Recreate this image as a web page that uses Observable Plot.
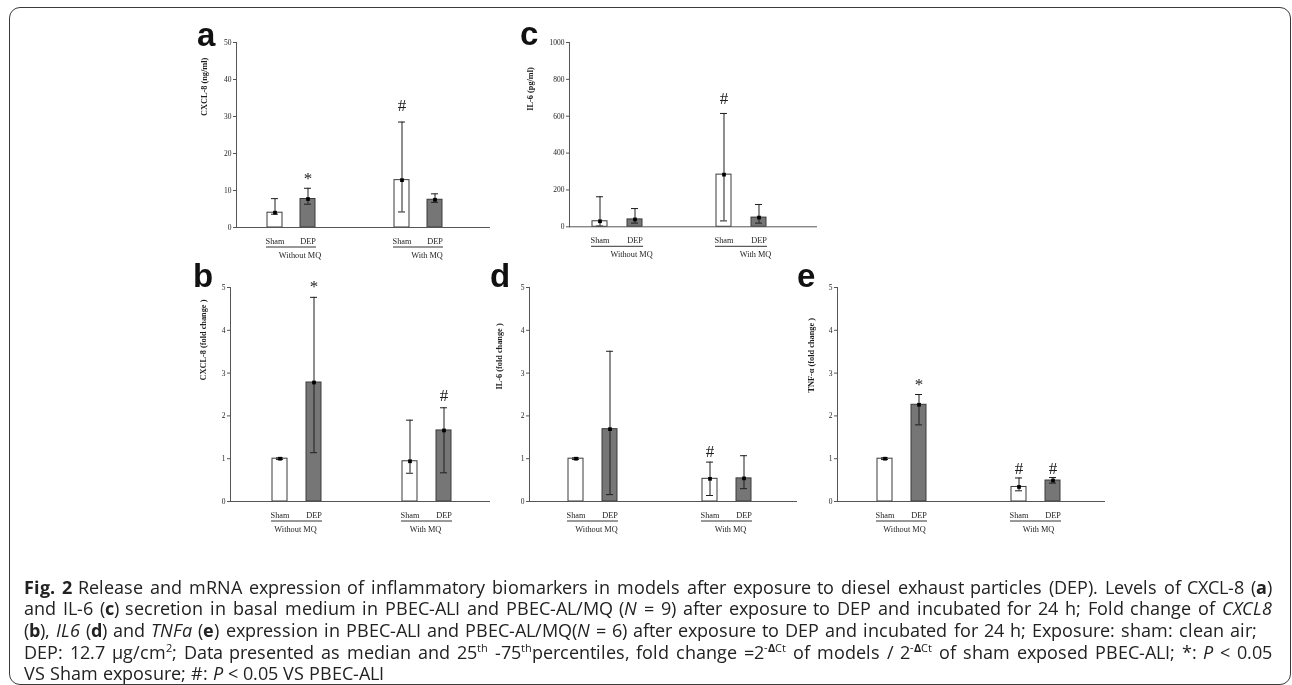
<!DOCTYPE html>
<html><head><meta charset="utf-8">
<script src="https://cdn.jsdelivr.net/npm/d3@7"></script>
<script src="https://cdn.jsdelivr.net/npm/@observablehq/plot@0.6"></script>
<style>
@font-face{font-family:"CapSans";font-weight:400;font-style:normal;src:local("Open Sans Regular"),local("OpenSans-Regular"),local("Open Sans");ascent-override:84%;descent-override:24%;line-gap-override:0%;}
@font-face{font-family:"CapSans";font-weight:700;font-style:normal;src:local("Open Sans Bold"),local("OpenSans-Bold");ascent-override:84%;descent-override:24%;line-gap-override:0%;}
@font-face{font-family:"CapSans";font-weight:400;font-style:italic;src:local("Open Sans Italic"),local("OpenSans-Italic");ascent-override:84%;descent-override:24%;line-gap-override:0%;}
body{margin:0;background:#fff;}
#fig{position:relative;width:1292px;height:685px;overflow:hidden;background:#fff;}
.border{position:absolute;left:9px;top:7px;width:1282px;height:678px;border:1.6px solid #3a3a3a;border-radius:11px;box-sizing:border-box;}
.panel{position:absolute;will-change:transform;}
.panel svg{overflow:visible;}
.letter{position:absolute;font:bold 33px "Liberation Sans",Arial,sans-serif;line-height:33px;color:#111;}
.caption{position:absolute;left:24px;top:580.2px;width:1248px;font-family:"CapSans","Open Sans",sans-serif;font-size:18.43px;color:#222;white-space:nowrap;will-change:transform;}
.caption div{line-height:18px;height:18px;margin-bottom:3.4px;}
.caption div.j{text-align:justify;text-align-last:justify;white-space:normal;}
.caption div.j3{width:1233px;}
.caption sup{display:inline-block;font-size:0.62em;line-height:0.8;vertical-align:0.6em;}
</style></head>
<body>
<div id="fig">
  <div class="border"></div>
  <div class="caption" id="caption">
    <div class="j"><b>Fig. 2</b> Release and mRNA expression of inflammatory biomarkers in models after exposure to diesel exhaust particles (DEP). Levels of CXCL-8 (<b>a</b>)</div>
    <div class="j">and IL-6 (<b>c</b>) secretion in basal medium in PBEC-ALI and PBEC-AL/MQ (<i>N</i> = 9) after exposure to DEP and incubated for 24 h; Fold change of <i>CXCL8</i></div>
    <div class="j j3">(<b>b</b>), <i>IL6</i> (<b>d</b>) and <i>TNFa</i> (<b>e</b>) expression in PBEC-ALI and PBEC-AL/MQ(<i>N</i> = 6) after exposure to DEP and incubated for 24 h; Exposure: sham: clean air;</div>
    <div class="j">DEP: 12.7 µg/cm<sup>2</sup>; Data presented as median and 25<sup>th</sup> -75<sup>th</sup>percentiles, fold change =2<sup>-<b>Δ</b>Ct</sup> of models / 2<sup>-<b>Δ</b>Ct</sup> of sham exposed PBEC-ALI; *: <i>P</i> &lt; 0.05</div>
    <div>VS Sham exposure; #: <i>P</i> &lt; 0.05 VS PBEC-ALI</div>
  </div>
</div>
<script>
// ---------- data ----------
const groups = ["Without MQ", "With MQ"];
const treatments = ["Sham", "DEP"];
const barGroup = ["Without MQ", "Without MQ", "With MQ", "With MQ"];
const barTreatment = ["Sham", "DEP", "Sham", "DEP"];

// a: CXCL-8 secretion (ng/ml)
const aMedian = [4.0, 7.7, 12.8, 7.5];
const aQ1 = [3.6, 6.3, 4.2, 6.8];
const aQ3 = [7.8, 10.6, 28.5, 9.1];
const aSig = ["", "*", "#", ""];
const aTicks = [0, 10, 20, 30, 40, 50];

// c: IL-6 secretion (pg/ml)
const cMedian = [30, 40, 283, 50];
const cQ1 = [4, 20, 32, 20];
const cQ3 = [163, 99, 615, 121];
const cSig = ["", "", "#", ""];
const cTicks = [0, 200, 400, 600, 800, 1000];

// b: CXCL8 fold change
const bMedian = [1.0, 2.78, 0.94, 1.66];
const bQ1 = [0.98, 1.14, 0.66, 0.67];
const bQ3 = [1.02, 4.77, 1.9, 2.19];
const bSig = ["", "*", "", "#"];

// d: IL6 fold change
const dMedian = [1.0, 1.69, 0.53, 0.54];
const dQ1 = [0.98, 0.16, 0.14, 0.3];
const dQ3 = [1.02, 3.51, 0.92, 1.07];
const dSig = ["", "", "#", ""];

// e: TNF-α fold change
const eMedian = [1.0, 2.26, 0.34, 0.49];
const eQ1 = [0.98, 1.79, 0.25, 0.43];
const eQ3 = [1.02, 2.5, 0.55, 0.56];
const eSig = ["", "*", "#", "#"];
const foldTicks = [0, 1, 2, 3, 4, 5];

const yLabelA = "CXCL-8 (ng/ml)";
const yLabelC = "IL-6 (pg/ml)";
const yLabelB = "CXCL-8 (fold change )";
const yLabelD = "IL-6 (fold change )";
const yLabelE = "TNF-α (fold change )";

// ---------- layout ----------
const mL = 60, mR = 5, mT = 30, mB = 42;
const panels = [
  {letter: "a", median: aMedian, q1: aQ1, q3: aQ3, sig: aSig, ticks: aTicks, label: yLabelA,
   L: 235, R: 490, T: 41.7, B: 226.7, pi: 0.544, po: 1.147, align: 0.392, ldx: -32, ldy: -19, lx: 197, lb: 44.5, hashDy: -11, starDy: -4.5},
  {letter: "c", median: cMedian, q1: cQ1, q3: cQ3, sig: cSig, ticks: cTicks, label: yLabelC,
   L: 568, R: 817, T: 41.7, B: 226, pi: 0.577, po: 1.042, align: 0.307, ldx: -39, ldy: -24, lx: 520, lb: 44, hashDy: -9, starDy: -4.5},
  {letter: "b", median: bMedian, q1: bQ1, q3: bQ3, sig: bSig, ticks: foldTicks, label: yLabelB,
   L: 230, R: 490, T: 287, B: 501, pi: 0.557, po: 1.136, align: 0.525, ldx: -27, ldy: -14, lx: 193, lb: 286, hashDy: -7, starDy: -5.5},
  {letter: "d", median: dMedian, q1: dQ1, q3: dQ3, sig: dSig, ticks: foldTicks, label: yLabelD,
   L: 528, R: 797, T: 287, B: 501, pi: 0.551, po: 1.225, align: 0.457, ldx: -30, ldy: -5, lx: 490, lb: 286, hashDy: -5, starDy: -4.5},
  {letter: "e", median: eMedian, q1: eQ1, q3: eQ3, sig: eSig, ticks: foldTicks, label: yLabelE,
   L: 836, R: 1105, T: 287, B: 501, pi: 0.551, po: 1.225, align: 0.47, ldx: -26, ldy: -2, lx: 797, lb: 286, hashDy: -4, starDy: -4.5}
];

const fig = document.getElementById("fig");
const ink = "#1e1e1e";
const axisInk = "#555";

for (const p of panels) {
  const rows = barGroup.map((g, i) => ({group: g, treatment: barTreatment[i], median: p.median[i], q1: p.q1[i], q3: p.q3[i], sig: p.sig[i]}));
  const underline = groups.map(g => ({group: g, from: treatments[0], to: treatments[1]}));
  const yMax = p.ticks[p.ticks.length - 1];
  const chart = Plot.plot({
    width: p.R - p.L + mL + mR,
    height: p.B - p.T + mT + mB,
    marginLeft: mL, marginRight: mR, marginTop: mT, marginBottom: mB,
    fx: {domain: groups, padding: 0, axis: null},
    x: {domain: treatments, paddingInner: p.pi, paddingOuter: p.po, align: p.align, axis: null},
    y: {domain: [0, yMax], axis: null},
    color: {domain: treatments, range: ["#ffffff", "#767676"]},
    style: {fontFamily: "'Liberation Serif', 'Times New Roman', serif", background: "transparent", color: ink},
    marks: [
      Plot.barY(rows, {fx: "group", x: "treatment", y: "median", fill: "treatment", stroke: "#3a3a3a", strokeWidth: 1}),
      Plot.ruleX(rows, {fx: "group", x: "treatment", y1: "q1", y2: "q3", stroke: ink, strokeWidth: 1}),
      Plot.tickY(rows, {fx: "group", x: "treatment", y: "q3", insetLeft: 4, insetRight: 4, stroke: ink, strokeWidth: 1}),
      Plot.tickY(rows, {fx: "group", x: "treatment", y: "q1", insetLeft: 4, insetRight: 4, stroke: ink, strokeWidth: 1}),
      Plot.dot(rows, {fx: "group", x: "treatment", y: "median", symbol: "square", r: 2.1, fill: "#000", stroke: null}),
      Plot.text(rows.filter(d => d.sig === "#"), {fx: "group", x: "treatment", y: "q3", text: "sig", lineAnchor: "bottom", dy: p.hashDy, fontSize: 17, fill: ink}),
      Plot.text(rows.filter(d => d.sig === "*"), {fx: "group", x: "treatment", y: "q3", text: "sig", lineAnchor: "bottom", dy: p.starDy, fontSize: 17, fill: ink}),
      Plot.ruleY([0], {stroke: axisInk, strokeWidth: 1}),
      Plot.frame({anchor: "left", facetAnchor: "left", stroke: axisInk, strokeWidth: 1}),
      Plot.axisY({ticks: p.ticks, tickSize: 3, tickPadding: 2, fontSize: 7.5, label: null, tickFormat: d => String(d), stroke: axisInk, color: ink}),
      Plot.axisX({tickSize: 0, tickPadding: 10.5, fontSize: 8.3, label: null, color: ink}),
      Plot.ruleY(underline, {fx: "group", y: 0, x1: "from", x2: "to", dy: 19.5, insetLeft: -1, insetRight: -1, stroke: "#333", strokeWidth: 1}),
      Plot.axisFx({anchor: "bottom", tickSize: 0, tickPadding: 24.5, fontSize: 8.3, label: null, color: ink}),
      Plot.text([p.label], {text: d => d, frameAnchor: "left", facetAnchor: "left", rotate: -90, dx: p.ldx, dy: p.ldy, fontWeight: "bold", fontSize: 8.3, fill: ink})
    ]
  });
  const holder = document.createElement("div");
  holder.className = "panel";
  holder.style.left = (p.L - mL) + "px";
  holder.style.top = (p.T - mT) + "px";
  holder.appendChild(chart);
  fig.appendChild(holder);

  const letter = document.createElement("div");
  letter.className = "letter";
  letter.textContent = p.letter;
  letter.style.left = p.lx + "px";
  letter.style.top = (p.lb - 27) + "px";
  fig.appendChild(letter);
}
</script>
</body></html>
